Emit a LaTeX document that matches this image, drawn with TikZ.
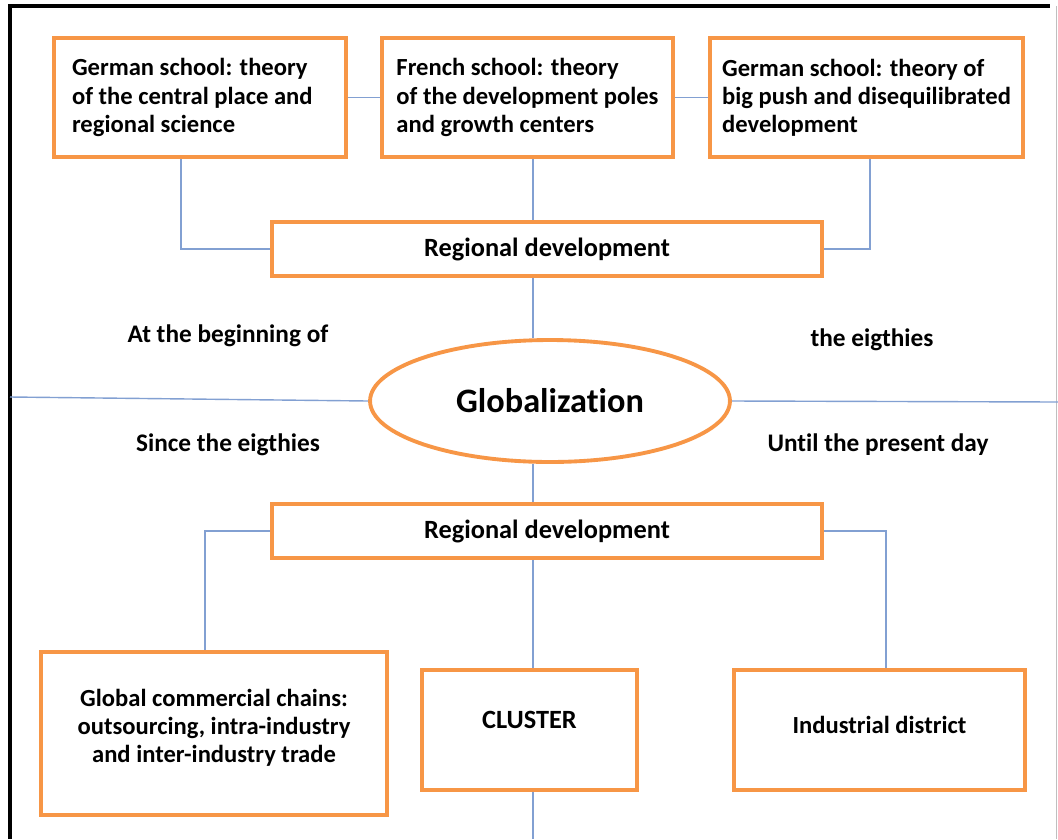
\documentclass[tikz,border=0pt]{standalone}
\usepackage{fontspec}
\setmainfont{Carlito}[Ligatures=NoCommon]
\usetikzlibrary{shapes.geometric}
\definecolor{boxorange}{RGB}{247,150,70}
\definecolor{linkblue}{RGB}{130,160,210}
\tikzset{
  box/.style={draw=boxorange, line width=2.2pt, fill=white, inner sep=0pt,
    font=\bfseries\fontsize{14}{16}\selectfont},
  link/.style={draw=linkblue, line width=0.8pt},
  caption/.style={font=\bfseries\fontsize{14.4}{17}\selectfont}
}

\begin{document}
\begin{tikzpicture}[x=0.02cm,y=-0.02cm]
		\useasboundingbox (0,0) rectangle (1058,839);
		
		%cornice
		\draw[line width=2pt] (10,839) -- (10,6) -- (1050,6);
		\draw[gray!50, line width=0.4pt] (1056,6) -- (1056,839);
		
		%riquadri
		\node[box, align=flush left, inner xsep=0.36cm, text width=5.12cm, minimum height=2.38cm] (german1) at (200,97.5)
		{German school: theory\\of the central place and\\regional science};
		\node[box, align=left, minimum width=5.82cm, minimum height=2.38cm] (french) at (527.5,97.5)
		{French school: theory\\of the development poles\\and growth centers};
		\node[box, align=left, minimum width=6.26cm, minimum height=2.38cm] (german2) at (866.5,97.5)
		{German school: theory of\\big push and disequilibrated\\development};
		\node[box, minimum width=11cm, minimum height=1.08cm,
		  font=\bfseries\fontsize{15}{18}\selectfont] (regtop) at (547,249) {Regional development};
		\node[box, ellipse, minimum width=7.2cm, minimum height=2.44cm,
		  font=\bfseries\fontsize{19.5}{22}\selectfont] (glob) at (550,401) {Globalization};
		\node[box, minimum width=11cm, minimum height=1.08cm,
		  font=\bfseries\fontsize{15}{18}\selectfont] (regbot) at (547,531) {Regional development};
		\node[box, align=center, text depth=0.3cm, minimum width=6.92cm, minimum height=3.26cm] (chains) at (214,733.5)
		{Global commercial chains:\\outsourcing, intra-industry\\and inter-industry trade};
		\node[box, text depth=0.4cm, minimum width=4.3cm, minimum height=2.4cm,
		  font=\bfseries\fontsize{15}{18}\selectfont] (cluster) at (529.5,730) {CLUSTER};
		\node[box, text depth=0.2cm, minimum width=5.82cm, minimum height=2.4cm] (district) at (879.5,730) {Industrial district};
		
		%punti
		\coordinate (spine) at (533,0);
		\coordinate (leftend) at (10,397);
		\coordinate (rightend) at (1058,402);
		\coordinate (bottomend) at (533,839);
		
		%linee
		\draw[link] (german1) -- (french);
		\draw[link] (french) -- (german2);
		\draw[link] ([xshift=-0.38cm]german1.south) |- (regtop.west);
		\draw[link] ([xshift=0.07cm]german2.south) |- (regtop.east);
		\draw[link] (french.south -| spine) -- (regtop.north -| spine);
		\draw[link] (regtop.south -| spine) -- (glob.north -| spine);
		\draw[link] (leftend) -- (glob.west);
		\draw[link] (glob.east) -- (rightend);
		\draw[link] (glob.south -| spine) -- (regbot.north -| spine);
		\draw[link] (regbot.west) -| ([xshift=-0.18cm]chains.north);
		\draw[link] (regbot.east) -| ([xshift=0.13cm]district.north);
		\draw[link] (regbot.south -| spine) -- (cluster.north -| spine);
		\draw[link] (cluster.south -| spine) -- (bottomend);
		
		%nomi
		\node[caption] (begin) at (228,336) {At the beginning of};
		\node[caption] (eighties) at (872,340) {the eigthies};
		\node[caption] (since) at (228,445) {Since the eigthies};
		\node[caption] (present) at (878,445) {Until the present day};
		
\end{tikzpicture}
\end{document}
